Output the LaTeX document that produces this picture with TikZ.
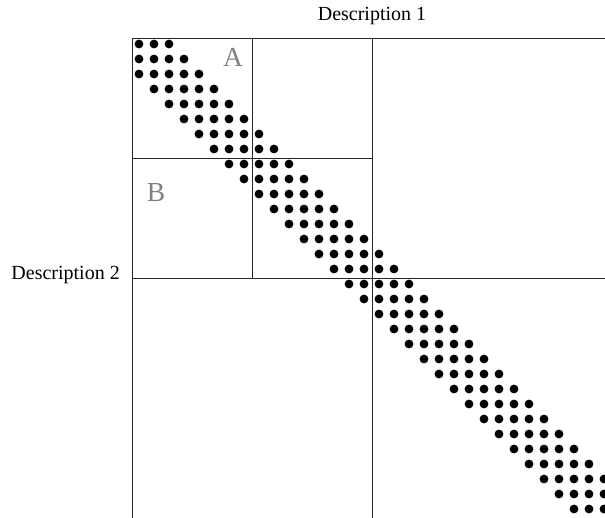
\documentclass[tikz,border=0pt]{standalone}
\usepackage{fontspec}
\setmainfont{Liberation Serif}
\begin{document}
\begin{tikzpicture}[x=1pt,y=-1pt,
  gridline/.style={line width=0.9pt, black!85},
  desc/.style={font=\fontsize{20}{24}\selectfont, inner sep=0pt},
  blocklabel/.style={font=\fontsize{27.5}{30}\selectfont, text=black!50, inner sep=0pt}]
\useasboundingbox (0,0) rectangle (605,518);
\begin{scope}
\clip (0,0) rectangle (605,518);
\draw[gridline] (132,518) -- (132,38) -- (612,38);
\draw[gridline] (252,38) -- (252,278);
\draw[gridline] (372,38) -- (372,518);
\draw[gridline] (132,158) -- (372,158);
\draw[gridline] (132,278) -- (612,278);
\foreach \i in {0,...,31} {
  \pgfmathtruncatemacro{\jmin}{max(0,\i-2)}
  \pgfmathtruncatemacro{\jmax}{min(31,\i+2)}
  \foreach \j in {\jmin,...,\jmax} {
     \fill (139+15*\j, 44+15*\i) circle[radius=4.4];
  }
}
\end{scope}
\node[desc, anchor=base] (d1) at (372,21) {Description 1};
\node[desc, anchor=base east] (d2) at (120,280) {Description 2};
\node[blocklabel] (la) at (233,57.5) {A};
\node[blocklabel] (lb) at (156,193) {B};
\end{tikzpicture}
\end{document}
